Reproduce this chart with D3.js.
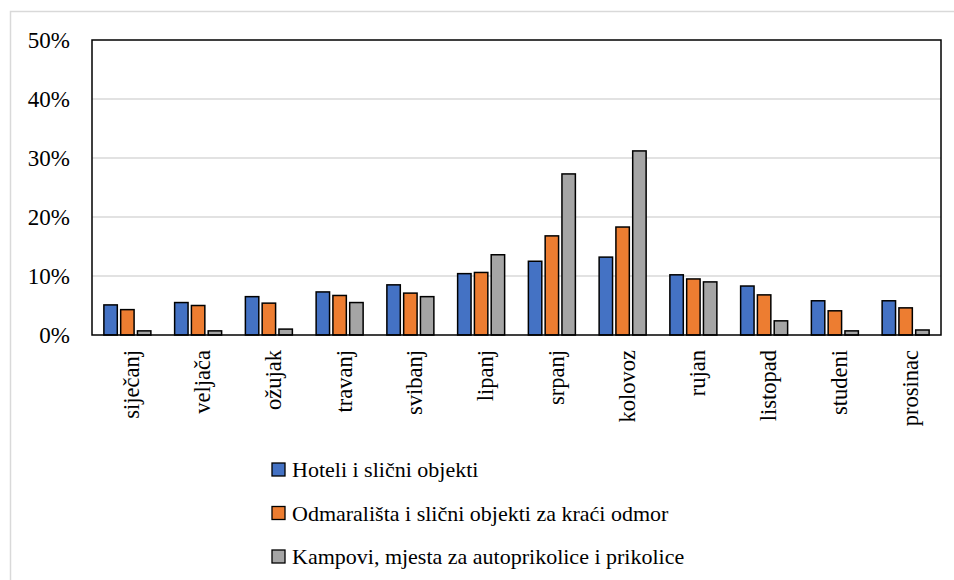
<html>
<head>
    <meta charset="utf-8">
    <style>
        body {
            margin: 0px;
            background: #ffffff;
        }
    </style>
</head>
<body>
    <svg id='viz'></svg>
</body>

<script src='https://d3js.org/d3.v7.min.js'></script>
<script>
var width = 954;
var height = 580;
var fontFamily = "'Liberation Serif', Tinos, 'Times New Roman', 'Nimbus Roman', 'DejaVu Serif', serif";

// data (share of nights per month, %)
var months = ["siječanj", "veljača", "ožujak", "travanj", "svibanj", "lipanj",
              "srpanj", "kolovoz", "rujan", "listopad", "studeni", "prosinac"];
var seriesNames = ["Hoteli i slični objekti",
                   "Odmarališta i slični objekti za kraći odmor",
                   "Kampovi, mjesta za autoprikolice i prikolice"];
var hoteli      = [5.1, 5.5, 6.5, 7.3, 8.5, 10.4, 12.5, 13.2, 10.2, 8.3, 5.8, 5.8];
var odmaralista = [4.3, 5.0, 5.4, 6.7, 7.1, 10.6, 16.8, 18.3, 9.5, 6.8, 4.1, 4.6];
var kampovi     = [0.7, 0.7, 1.0, 5.5, 6.5, 13.6, 27.3, 31.2, 9.0, 2.4, 0.7, 0.85];
var yTicks = [0, 10, 20, 30, 40, 50];
var colors = ["#4472C4", "#ED7D31", "#A5A5A5"];

var series = [hoteli, odmaralista, kampovi];

// plot area
var plotLeft = 92, plotRight = 941, plotTop = 40, plotBottom = 335;

var svg = d3.select("#viz").attr("width", width).attr("height", height)
    .style("font-family", fontFamily);

// outer chart frame (runs off the right / bottom of the picture)
svg.append("rect")
    .attr("x", 10.5).attr("y", 11.5)
    .attr("width", 1000).attr("height", 700)
    .attr("fill", "none")
    .attr("stroke", "#d9d9d9")
    .attr("stroke-width", 1.5);

var x = d3.scaleBand().domain(months).range([plotLeft, plotRight]).padding(0);
var xs = d3.scaleBand().domain([0, 1, 2]).range([-23.5, 23.5]).paddingInner(0.2);
var y = d3.scaleLinear().domain([0, 50]).range([plotBottom, plotTop]);

// gridlines
svg.append("g").selectAll("line")
    .data(yTicks.filter(function(d) { return d > 0 && d < 50; }))
    .enter().append("line")
    .attr("x1", plotLeft).attr("x2", plotRight)
    .attr("y1", function(d) { return y(d); })
    .attr("y2", function(d) { return y(d); })
    .attr("stroke", "#d9d9d9")
    .attr("stroke-width", 1.5);

// y labels
svg.append("g").selectAll("text")
    .data(yTicks)
    .enter().append("text")
    .attr("x", 70)
    .attr("y", function(d) { return y(d); })
    .attr("dy", "0.35em")
    .attr("text-anchor", "end")
    .attr("font-family", fontFamily)
    .style("font-size", "23px")
    .text(function(d) { return d + "%"; });

// bars
var groups = svg.append("g").selectAll("g")
    .data(months)
    .enter().append("g")
    .attr("transform", function(d) { return "translate(" + (x(d) + x.bandwidth() / 2) + ",0)"; });

groups.selectAll("rect")
    .data(function(d, i) { return series.map(function(s, k) { return {k: k, v: s[i]}; }); })
    .enter().append("rect")
    .attr("x", function(d) { return xs(d.k); })
    .attr("width", xs.bandwidth())
    .attr("y", function(d) { return y(d.v); })
    .attr("height", function(d) { return y(0) - y(d.v); })
    .attr("fill", function(d) { return colors[d.k]; })
    .attr("stroke", "#000")
    .attr("stroke-width", 1.5);

// plot frame
svg.append("rect")
    .attr("x", plotLeft).attr("y", plotTop)
    .attr("width", plotRight - plotLeft).attr("height", plotBottom - plotTop)
    .attr("fill", "none")
    .attr("stroke", "#000")
    .attr("stroke-width", 1.5);

// month labels, rotated
svg.append("g").selectAll("text")
    .data(months)
    .enter().append("text")
    .attr("transform", function(d) {
        return "translate(" + (x(d) + x.bandwidth() / 2 + 12) + "," + 350 + ") rotate(-90)";
    })
    .attr("text-anchor", "end")
    .attr("font-family", fontFamily)
    .style("font-size", "22.5px")
    .text(function(d) { return d; });

// legend
var legend = svg.append("g").selectAll("g")
    .data(seriesNames)
    .enter().append("g")
    .attr("transform", function(d, i) { return "translate(272," + (463 + i * 43.5) + ")"; });

legend.append("rect")
    .attr("width", 13).attr("height", 13)
    .attr("fill", function(d, i) { return colors[i]; })
    .attr("stroke", "#000")
    .attr("stroke-width", 1.3);

legend.append("text")
    .attr("x", 20)
    .attr("y", 14)
    .attr("font-family", fontFamily)
    .style("font-size", "22px")
    .text(function(d) { return d; });
</script>
</html>
